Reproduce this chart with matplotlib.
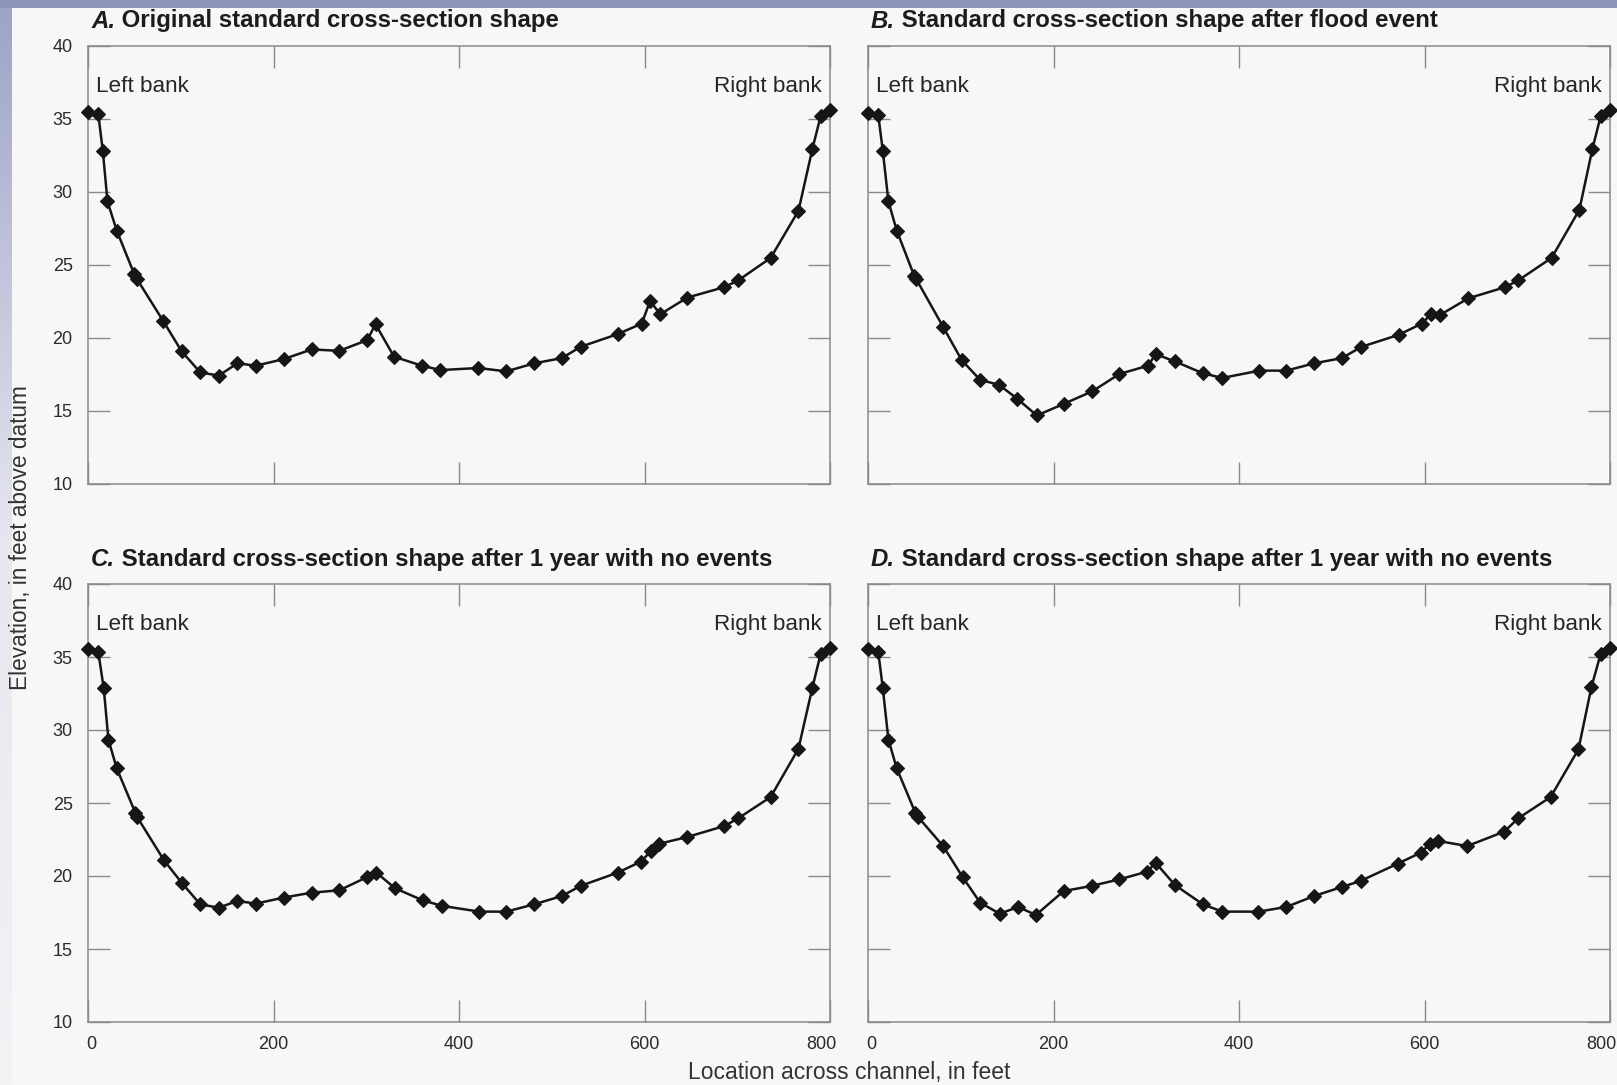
import matplotlib
matplotlib.use("Agg")
import matplotlib.pyplot as plt
import numpy as np
from matplotlib.transforms import ScaledTranslation

# Station (ft from left bank) and bed elevation (ft above datum) for each survey
x_a = [0, 11, 16, 21, 31, 50, 53, 81, 101, 121, 141, 161, 181, 211, 241, 271, 301, 310, 330, 360, 380,
       421, 451, 481, 511, 531, 571, 597, 606, 617, 646, 686, 701, 736, 766, 781, 790, 800]
z_a = [35.45, 35.34, 32.77, 29.32, 27.32, 24.32, 23.98, 21.14, 19.05, 17.61, 17.39, 18.23, 18.07, 18.52,
       19.18, 19.09, 19.82, 20.91, 18.68, 18.07, 17.77,
       17.91, 17.68, 18.23, 18.59, 19.36, 20.23, 20.95, 22.5, 21.59, 22.73, 23.45, 23.91, 25.45, 28.68,
       32.91, 35.18, 35.55]

x_b = [0, 11, 16, 22, 31, 50, 52, 81, 101, 121, 141, 161, 182, 211, 242, 271, 302, 310, 331, 361, 382,
       422, 451, 481, 511, 532, 572, 597, 607, 617, 647, 687, 701, 737, 767, 781, 790, 800]
z_b = [35.41, 35.27, 32.77, 29.32, 27.32, 24.2, 24.0, 20.73, 18.45, 17.09, 16.77, 15.8, 14.66, 15.45,
       16.32, 17.5, 18.07, 18.86, 18.36, 17.55, 17.23,
       17.73, 17.73, 18.23, 18.59, 19.36, 20.18, 20.95, 21.59, 21.55, 22.68, 23.45, 23.91, 25.45, 28.75,
       32.91, 35.18, 35.57]

x_c = [0, 11, 17, 22, 31, 51, 53, 82, 101, 121, 141, 161, 181, 211, 241, 271, 301, 311, 331, 361, 382,
       422, 451, 481, 511, 531, 571, 596, 607, 616, 646, 686, 701, 736, 766, 781, 790, 800]
z_c = [35.53, 35.37, 32.85, 29.34, 27.37, 24.34, 24.04, 21.07, 19.54, 18.06, 17.83, 18.29, 18.11, 18.52,
       18.86, 19.02, 19.93, 20.23, 19.16, 18.33, 17.95,
       17.56, 17.56, 18.06, 18.63, 19.32, 20.23, 20.98, 21.71, 22.21, 22.67, 23.42, 23.95, 25.41, 28.72,
       32.9, 35.23, 35.59]

x_d = [0, 11, 16, 22, 31, 51, 54, 81, 102, 121, 142, 162, 181, 211, 241, 271, 301, 310, 331, 361, 382,
       421, 451, 481, 511, 531, 571, 596, 606, 615, 646, 686, 701, 736, 766, 780, 790, 800]
z_d = [35.53, 35.37, 32.85, 29.34, 27.37, 24.34, 24.04, 22.05, 19.93, 18.17, 17.42, 17.88, 17.33, 18.97,
       19.32, 19.77, 20.3, 20.91, 19.38, 18.06, 17.56,
       17.56, 17.88, 18.63, 19.25, 19.66, 20.84, 21.6, 22.21, 22.4, 22.05, 23.04, 23.95, 25.41, 28.68,
       32.95, 35.23, 35.59]

letters = ["A.", "B.", "C.", "D."]
titles = ["Original standard cross-section shape",
          "Standard cross-section shape after flood event",
          "Standard cross-section shape after 1 year with no events",
          "Standard cross-section shape after 1 year with no events"]
x_ticks = [0, 200, 400, 600, 800]
y_ticks = [10, 15, 20, 25, 30, 35, 40]

font = "Liberation Sans"
bg = "#f7f7f7"
ink = "#161616"
gray = "#8a8a8a"

fig = plt.figure(figsize=(16.17, 10.85), dpi=100, facecolor=bg)

# slide frame: band across the top, fading strip down the left side
W, H = 1617, 1085
band = fig.add_axes([0, 1 - 8 / H, 1, 8 / H])
band.set_facecolor("#8e93b8")
band.set_xticks([])
band.set_yticks([])
for s in band.spines.values():
    s.set_visible(False)
strip = fig.add_axes([0, 0, 11 / W, 1 - 8 / H])
rows = np.linspace(0, 1, 200)
top_c = np.array([158, 163, 200]) / 255
mid_c = np.array([230, 231, 239]) / 255
end_c = np.array([243, 243, 246]) / 255
grad = np.empty((200, 1, 3))
for i, t in enumerate(rows):
    if t < 0.5:
        grad[i, 0] = top_c + (mid_c - top_c) * (t / 0.5)
    else:
        grad[i, 0] = mid_c + (end_c - mid_c) * ((t - 0.5) / 0.5)
strip.imshow(grad, aspect="auto", extent=(0, 1, 0, 1))
strip.axis("off")

boxes = [(88, 45.5), (868, 45.5), (88, 584), (868, 584)]
aw, ah = 742, 438
series = [(x_a, z_a), (x_b, z_b), (x_c, z_c), (x_d, z_d)]

for k, ((px, py), (xs, zs)) in enumerate(zip(boxes, series)):
    ax = fig.add_axes([px / W, 1 - (py + ah) / H, aw / W, ah / H])
    ax.set_facecolor(bg)
    ax.set_xlim(0, 800)
    ax.set_ylim(10, 40)
    ax.set_xticks(x_ticks)
    ax.set_yticks(y_ticks)
    for s in ax.spines.values():
        s.set_color(gray)
        s.set_linewidth(1.1)
    ax.tick_params(direction="in", length=16, width=1.0, color=gray,
                   top=True, right=True, labelsize=13, labelcolor="#2b2b2b")
    ax.tick_params(axis="y", pad=11)
    ax.tick_params(axis="x", pad=10)
    for lab in ax.get_xticklabels() + ax.get_yticklabels():
        lab.set_family(font)
    if k < 2:
        ax.tick_params(axis="x", labelbottom=False)
    else:
        # nudge the end labels in from the corners
        xl = ax.get_xticklabels()
        xl[0].set_transform(xl[0].get_transform() + ScaledTranslation(2.5 / 72, 0, fig.dpi_scale_trans))
        xl[-1].set_transform(xl[-1].get_transform() + ScaledTranslation(-6 / 72, 0, fig.dpi_scale_trans))
    if k % 2 == 1:
        ax.tick_params(axis="y", labelleft=False)

    ax.plot(xs, zs, color=ink, lw=1.8, marker="D", ms=6.8, mew=0.8,
            mfc=ink, mec=ink, clip_on=False, zorder=3)

    ax.text(8 / aw, 37.2, "Left bank", transform=ax.get_yaxis_transform(),
            ha="left", va="center", fontsize=16.2, family=font, color="#262626")
    ax.text(1 - 8 / aw, 37.2, "Right bank", transform=ax.get_yaxis_transform(),
            ha="right", va="center", fontsize=16.2, family=font, color="#262626")

    t1 = ax.text(3 / aw, 1 + 13 / ah, letters[k], transform=ax.transAxes,
                 ha="left", va="bottom", fontsize=17.3, family=font,
                 fontweight="bold", fontstyle="italic", color="#1c1c1c")
    ax.annotate(" " + titles[k], xy=(1, 0), xycoords=t1, ha="left", va="bottom",
                fontsize=17.3, family=font, fontweight="bold", color="#1c1c1c")

fig.text(849 / W, 1 - 1073 / H, "Location across channel, in feet", ha="center",
         va="center", fontsize=16.5, family=font, color="#333333")
fig.text(21 / W, 1 - 538 / H, "Elevation, in feet above datum", ha="center",
         va="center", rotation=90, fontsize=16.3, family=font, color="#333333")

fig.savefig("out.png", dpi=100, facecolor=bg)
